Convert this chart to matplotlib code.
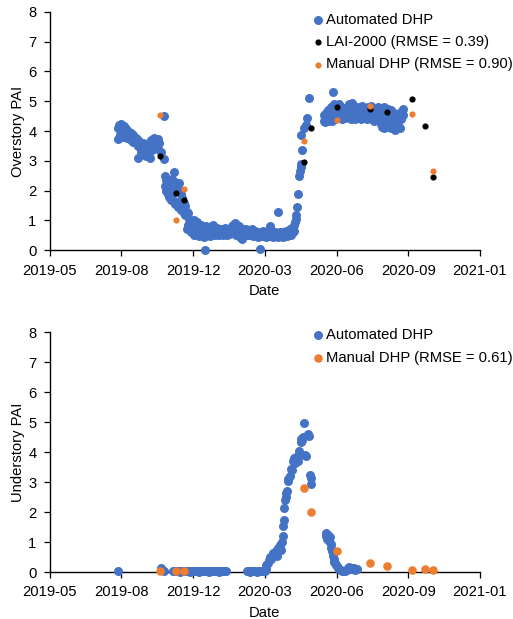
import matplotlib
matplotlib.use('Agg')
import matplotlib.pyplot as plt
import matplotlib.dates as mdates
import pandas as pd

plt.rcParams['font.family'] = ['Liberation Sans', 'DejaVu Sans']
plt.rcParams['font.size'] = 10.6

# ---------------- data ----------------
x_ticks = ['2019-05-15', '2019-08-23', '2019-12-01', '2020-03-10',
           '2020-06-18', '2020-09-26', '2021-01-04']
y_ticks = [0, 1, 2, 3, 4, 5, 6, 7, 8]

# Overstory: automated DHP (date -> values observed that day)
over_auto_dates = [
    '2019-08-19', '2019-08-20', '2019-08-21', '2019-08-23', '2019-08-24', '2019-08-25',
    '2019-08-27', '2019-08-28', '2019-08-30', '2019-08-31', '2019-09-02', '2019-09-03',
    '2019-09-05', '2019-09-07', '2019-09-08', '2019-09-10', '2019-09-12', '2019-09-14',
    '2019-09-15', '2019-09-16', '2019-09-18', '2019-09-20', '2019-09-22', '2019-09-23',
    '2019-09-25', '2019-09-27', '2019-09-29', '2019-10-01', '2019-10-02', '2019-10-03',
    '2019-10-05', '2019-10-07', '2019-10-09', '2019-10-11', '2019-10-13', '2019-10-15',
    '2019-10-17', '2019-10-21', '2019-10-22',
    '2019-10-23', '2019-10-25', '2019-10-27', '2019-10-29', '2019-10-31', '2019-11-02',
    '2019-11-04', '2019-11-06', '2019-11-08', '2019-11-10', '2019-11-12', '2019-11-14',
    '2019-11-16', '2019-11-18', '2019-11-20', '2019-11-22', '2019-11-24', '2019-11-26',
    '2019-11-28',
    '2019-11-30', '2019-12-02', '2019-12-04', '2019-12-06', '2019-12-08', '2019-12-10',
    '2019-12-12', '2019-12-14', '2019-12-16', '2019-12-18', '2019-12-19', '2019-12-21',
    '2019-12-23', '2019-12-25', '2019-12-27', '2019-12-29', '2019-12-31', '2020-01-02',
    '2020-01-04', '2020-01-06', '2020-01-08', '2020-01-10', '2020-01-12', '2020-01-14',
    '2020-01-16', '2020-01-18', '2020-01-20', '2020-01-22', '2020-01-24', '2020-01-26',
    '2020-01-28', '2020-01-30', '2020-02-01', '2020-02-03', '2020-02-05', '2020-02-07',
    '2020-02-09', '2020-02-11', '2020-02-13', '2020-02-15', '2020-02-17', '2020-02-19',
    '2020-02-21', '2020-02-23', '2020-02-25', '2020-02-27', '2020-02-29', '2020-03-03',
    '2020-03-04', '2020-03-06', '2020-03-08', '2020-03-10', '2020-03-12', '2020-03-14',
    '2020-03-16', '2020-03-18', '2020-03-20', '2020-03-22', '2020-03-24', '2020-03-26',
    '2020-03-28', '2020-03-29', '2020-03-31', '2020-04-02', '2020-04-04', '2020-04-06',
    '2020-04-08', '2020-04-10', '2020-04-12', '2020-04-14', '2020-04-16', '2020-04-18',
    '2020-04-19', '2020-04-20', '2020-04-21', '2020-04-22', '2020-04-23', '2020-04-24',
    '2020-04-26', '2020-04-27', '2020-04-28', '2020-04-29', '2020-04-30', '2020-05-01',
    '2020-05-04', '2020-05-06', '2020-05-08', '2020-05-10',
    '2020-05-31', '2020-06-02', '2020-06-04', '2020-06-06', '2020-06-08', '2020-06-10',
    '2020-06-12', '2020-06-13', '2020-06-14', '2020-06-16', '2020-06-18', '2020-06-20',
    '2020-06-22', '2020-06-24', '2020-06-26', '2020-06-28', '2020-06-30', '2020-07-02',
    '2020-07-04', '2020-07-06', '2020-07-08', '2020-07-10', '2020-07-12', '2020-07-14',
    '2020-07-16', '2020-07-18', '2020-07-20', '2020-07-22', '2020-07-24', '2020-07-26',
    '2020-07-28', '2020-07-30', '2020-08-01', '2020-08-03', '2020-08-05', '2020-08-07',
    '2020-08-09', '2020-08-11', '2020-08-13', '2020-08-15', '2020-08-17', '2020-08-19',
    '2020-08-21', '2020-08-23', '2020-08-25', '2020-08-27', '2020-08-29', '2020-08-31',
    '2020-09-02', '2020-09-04', '2020-09-06', '2020-09-08', '2020-09-10', '2020-09-12',
    '2020-09-14', '2020-09-16', '2020-09-18',
]
over_auto_values = [
    [4.10, 3.72], [4.20], [4.05, 3.85], [4.22, 3.95], [4.15], [4.05, 3.80],
    [4.18], [4.10, 3.90], [4.08], [3.95, 3.75], [4.00], [3.85],
    [3.92, 3.70], [3.80], [3.88, 3.62], [3.75], [3.78, 3.60], [3.65],
    [3.10], [3.70, 3.50], [3.55], [3.40, 3.30], [3.45], [3.60, 3.25],
    [3.35], [3.50, 3.15], [3.40], [3.60, 3.30], [3.08], [3.70],
    [3.50, 3.35], [3.75], [3.65, 3.45], [3.55], [3.72, 3.40], [3.60],
    [3.30], [4.50], [3.06],
    [2.50, 2.15], [2.35, 2.00], [2.25, 1.90], [2.10, 1.80], [2.00, 1.70], [2.40, 1.85],
    [2.62, 1.65], [2.30, 1.55], [2.20, 1.60], [2.05, 1.45], [2.25, 1.50], [1.90, 1.35],
    [1.75, 1.40], [1.60, 1.25], [1.50, 1.20], [1.30, 0.70], [1.25, 0.85], [1.05, 0.75],
    [0.95, 0.60],
    [0.95, 0.60], [1.00, 0.75, 0.50], [0.85, 0.55], [0.95, 0.65], [0.80, 0.50], [0.70, 0.48],
    [0.85, 0.60], [0.75, 0.55], [0.65, 0.45], [0.02], [0.80, 0.55], [0.70, 0.50],
    [0.75, 0.60], [0.65, 0.48], [0.80, 0.55], [0.85, 0.62], [0.70, 0.50], [0.65, 0.55],
    [0.75, 0.60], [0.70, 0.50], [0.62, 0.55], [0.72, 0.58], [0.68, 0.52], [0.75, 0.62],
    [0.65, 0.55], [0.70, 0.50], [0.60, 0.55], [0.72, 0.60], [0.80, 0.58], [0.85, 0.65],
    [0.90, 0.70, 0.55], [0.75, 0.50], [0.85, 0.60], [0.80, 0.65], [0.70, 0.45], [0.62, 0.38],
    [0.72, 0.55], [0.65, 0.50], [0.70, 0.58], [0.60, 0.52], [0.68, 0.55], [0.62, 0.50],
    [0.70, 0.55], [0.58, 0.48], [0.65, 0.55], [0.60, 0.50], [0.55, 0.45], [0.06],
    [0.62, 0.50], [0.58, 0.48], [0.65, 0.52], [0.60, 0.50], [0.55, 0.45], [0.62, 0.50],
    [0.58, 0.48], [0.80, 0.55], [0.65, 0.50], [0.58, 0.45], [0.60, 0.50], [0.55, 0.48],
    [1.30], [0.58, 0.45], [0.62, 0.50], [0.55, 0.48], [0.60, 0.45], [0.58, 0.50],
    [0.65, 0.52], [0.55, 0.48], [0.62, 0.50], [0.70, 0.55], [0.65, 0.52], [0.75, 0.60],
    [0.75], [0.85, 0.65], [0.95], [1.05], [1.20], [1.45],
    [1.90], [2.50], [2.65], [2.80, 3.88], [2.90], [3.38],
    [4.10], [4.20], [4.42], [5.10],
    [4.35, 4.55], [4.45, 4.30], [4.60, 4.40], [4.70, 4.35], [4.55, 4.40], [4.80, 4.45],
    [4.65, 4.35], [5.32], [4.90, 4.50], [4.75, 4.40], [4.85, 4.55], [4.70, 4.45],
    [4.90, 4.60], [4.80, 4.50], [4.65, 4.40], [4.75, 4.55], [4.60, 4.45], [4.70, 4.50],
    [4.85, 4.60], [4.92, 4.55], [4.80, 4.40], [4.95, 4.65], [4.85, 4.50], [4.70, 4.40],
    [4.75, 4.55], [4.65, 4.45], [4.80, 4.50], [4.70, 4.40], [4.85, 4.55], [4.60, 4.45],
    [4.75, 4.50], [4.70, 4.40], [4.80, 4.55], [4.65, 4.45], [4.85, 4.50], [4.70, 4.40],
    [4.60, 4.35], [4.75, 4.45], [4.65, 4.40], [4.80, 4.50], [4.55, 4.35], [4.70, 4.25],
    [4.60, 4.15], [4.80, 4.40, 4.10], [4.50, 4.20], [4.65, 4.30], [4.75, 4.45, 4.15], [4.55, 4.25],
    [4.70, 4.10], [4.40, 4.20], [4.60, 4.30], [4.50, 4.05], [4.35, 4.15], [4.55, 4.30],
    [4.45, 4.10], [4.65, 4.40], [4.75, 4.55],
]

# Overstory: LAI-2000
over_lai_dates = ['2019-10-16', '2019-11-07', '2019-11-19', '2020-05-04', '2020-05-14',
                  '2020-06-18', '2020-08-04', '2020-08-28', '2020-10-01', '2020-10-20',
                  '2020-10-30']
over_lai_values = [3.17, 1.93, 1.70, 2.97, 4.10, 4.80, 4.75, 4.63, 5.06, 4.17, 2.47]

# Overstory: manual DHP
over_man_dates = ['2019-10-16', '2019-11-07', '2019-11-19', '2020-05-04', '2020-06-18',
                  '2020-08-04', '2020-10-01', '2020-10-30']
over_man_values = [4.53, 1.02, 2.05, 3.65, 4.38, 4.85, 4.58, 2.66]

# Understory: automated DHP
under_auto_dates = [
    '2019-08-19', '2019-10-18', '2019-10-21',
    '2019-11-03', '2019-11-05', '2019-11-07', '2019-11-09', '2019-11-11', '2019-11-13',
    '2019-11-15', '2019-11-17', '2019-11-19', '2019-11-21', '2019-11-23', '2019-11-25',
    '2019-11-27', '2019-11-29', '2019-12-01', '2019-12-03', '2019-12-05', '2019-12-07',
    '2019-12-09', '2019-12-11', '2019-12-13', '2019-12-15', '2019-12-17', '2019-12-19',
    '2019-12-21', '2019-12-23', '2019-12-25', '2019-12-27', '2019-12-29', '2019-12-31',
    '2020-01-02', '2020-01-04', '2020-01-06', '2020-01-08', '2020-01-10', '2020-01-12',
    '2020-01-14', '2020-01-16',
    '2020-02-14', '2020-02-16', '2020-02-18', '2020-02-20', '2020-02-22', '2020-02-24',
    '2020-02-26', '2020-02-28', '2020-03-01', '2020-03-03', '2020-03-05', '2020-03-07',
    '2020-03-08', '2020-03-10', '2020-03-12', '2020-03-14', '2020-03-16', '2020-03-17',
    '2020-03-19', '2020-03-21', '2020-03-23', '2020-03-25', '2020-03-27', '2020-03-29',
    '2020-03-31', '2020-04-01', '2020-04-03', '2020-04-04', '2020-04-05', '2020-04-06',
    '2020-04-07', '2020-04-08', '2020-04-09', '2020-04-10', '2020-04-11', '2020-04-12',
    '2020-04-14', '2020-04-16', '2020-04-17', '2020-04-19', '2020-04-20', '2020-04-21',
    '2020-04-22', '2020-04-23', '2020-04-25', '2020-04-27', '2020-04-28', '2020-04-29',
    '2020-04-30', '2020-05-01', '2020-05-02', '2020-05-04', '2020-05-05', '2020-05-07',
    '2020-05-09', '2020-05-10', '2020-05-12', '2020-05-13', '2020-05-14',
    '2020-06-03', '2020-06-04', '2020-06-05', '2020-06-06', '2020-06-07', '2020-06-08',
    '2020-06-09', '2020-06-10', '2020-06-11', '2020-06-12', '2020-06-13', '2020-06-14',
    '2020-06-15', '2020-06-16', '2020-06-17', '2020-06-18', '2020-06-20', '2020-06-22',
    '2020-06-24', '2020-06-26', '2020-06-28', '2020-06-30', '2020-07-02', '2020-07-04',
    '2020-07-06', '2020-07-08', '2020-07-10', '2020-07-12', '2020-07-14', '2020-07-16',
]
under_auto_values = [
    [0.04], [0.12], [0.05],
    [0.03], [0.02], [0.04], [0.02], [0.03], [0.01],
    [0.03], [0.02], [0.04], [0.02], [0.03], [0.02],
    [0.01], [0.03], [0.02], [0.04], [0.02], [0.03],
    [0.01], [0.02], [0.03], [0.02], [0.04], [0.02],
    [0.03], [0.01], [0.02], [0.03], [0.02], [0.04],
    [0.02], [0.03], [0.01], [0.02], [0.03], [0.02],
    [0.04], [0.03],
    [0.02], [0.03], [0.01], [0.02], [0.04], [0.02],
    [0.03], [0.01], [0.02], [0.03], [0.02], [0.04],
    [0.02], [0.05], [0.10, 0.25], [0.30], [0.40], [0.50],
    [0.45], [0.55, 0.65], [0.60], [0.70], [0.75, 0.55], [0.80],
    [0.90], [0.75], [1.00], [1.20], [1.55], [1.75, 2.15],
    [2.40], [2.50], [2.65], [2.70], [3.05], [3.10],
    [3.20], [3.45], [3.40], [3.70], [3.80], [3.65],
    [3.85], [3.75], [3.70], [4.05], [3.90], [4.35],
    [4.45], [4.40], [4.50], [4.98], [3.92], [3.88],
    [4.62], [4.55], [3.25], [3.15], [2.95],
    [1.29], [1.20], [1.10], [1.25], [1.15], [1.05],
    [1.17], [0.95], [0.80], [0.70], [0.55], [0.45],
    [0.35], [0.30], [0.25], [0.20], [0.15], [0.10],
    [0.08], [0.03], [0.05], [0.02], [0.06], [0.12],
    [0.18], [0.10], [0.15], [0.12], [0.08], [0.10],
]

# Understory: manual DHP
under_man_dates = ['2019-10-16', '2019-11-07', '2019-11-19', '2020-05-04', '2020-05-14',
                   '2020-06-18', '2020-08-04', '2020-08-28', '2020-10-01', '2020-10-20',
                   '2020-10-30']
under_man_values = [0.04, 0.02, 0.02, 2.81, 2.00, 0.69, 0.29, 0.20, 0.07, 0.09, 0.07]

labels_top = ['Automated DHP', 'LAI-2000 (RMSE = 0.39)', 'Manual DHP (RMSE = 0.90)']
labels_bottom = ['Automated DHP', 'Manual DHP (RMSE = 0.61)']

BLUE = '#4472C4'
ORANGE = '#ED7D31'
BLACK = '#000000'


def expand(dates, values):
    xs, ys = [], []
    for d, vals in zip(dates, values):
        for v in vals:
            xs.append(d)
            ys.append(v)
    return pd.to_datetime(xs), ys


fig = plt.figure(figsize=(5.13, 6.19), dpi=100)
ax1 = fig.add_axes([0.0965, 0.5956, 0.8392, 0.3855])
ax2 = fig.add_axes([0.0965, 0.0759, 0.8392, 0.3873])

ticks_dt = pd.to_datetime(x_ticks)

for ax in (ax1, ax2):
    for s in ('top', 'right'):
        ax.spines[s].set_visible(False)
    for s in ('left', 'bottom'):
        ax.spines[s].set_linewidth(1.0)
        ax.spines[s].set_color('#000000')
    ax.set_xlim(ticks_dt[0], ticks_dt[-1])
    ax.set_ylim(0, 8)
    ax.set_xticks(ticks_dt)
    ax.set_yticks(y_ticks)
    ax.xaxis.set_major_formatter(mdates.DateFormatter('%Y-%m'))
    ax.tick_params(direction='out', length=4.5, width=0.9, pad=5, color='#000000')
    ax.set_xlabel('Date')
    ax.xaxis.set_label_coords(0.5, -0.143)
    ax.yaxis.set_label_coords(-0.058, 0.5)

# Top panel
x, y = expand(over_auto_dates, over_auto_values)
h1 = ax1.scatter(x, y, s=42, color=BLUE, linewidths=0, zorder=3, clip_on=False)
h2 = ax1.scatter(pd.to_datetime(over_lai_dates), over_lai_values, s=20, color=BLACK,
                 linewidths=0, zorder=4, clip_on=False)
h3 = ax1.scatter(pd.to_datetime(over_man_dates), over_man_values, s=20, color=ORANGE,
                 linewidths=0, zorder=5, clip_on=False)
ax1.set_ylabel('Overstory PAI')
ax1.legend([h1, h2, h3], labels_top, loc='upper left', bbox_to_anchor=(0.6127, 0.9795),
           bbox_transform=fig.transFigure, frameon=False, borderpad=0, borderaxespad=0,
           handlelength=0.5, handletextpad=0.3, labelspacing=0.57, scatterpoints=1)

# Bottom panel
x, y = expand(under_auto_dates, under_auto_values)
g1 = ax2.scatter(x, y, s=42, color=BLUE, linewidths=0, zorder=3, clip_on=False)
g2 = ax2.scatter(pd.to_datetime(under_man_dates), under_man_values, s=38, color=ORANGE,
                 linewidths=0, zorder=4, clip_on=False)
ax2.set_ylabel('Understory PAI')
ax2.legend([g1, g2], labels_bottom, loc='upper left', bbox_to_anchor=(0.6127, 0.4706),
           bbox_transform=fig.transFigure, frameon=False, borderpad=0, borderaxespad=0,
           handlelength=0.5, handletextpad=0.3, labelspacing=0.63, scatterpoints=1)

fig.savefig('out.png', dpi=100)
